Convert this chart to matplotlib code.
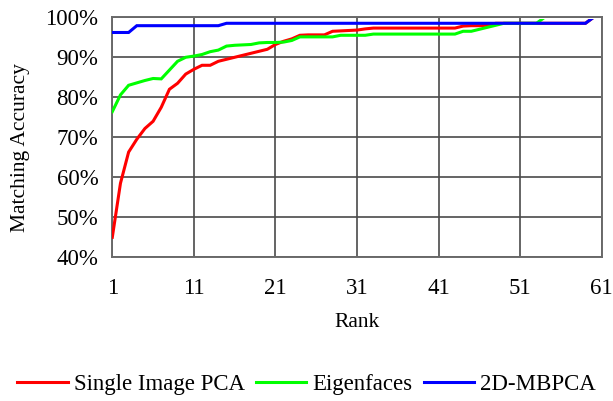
import matplotlib.pyplot as plt
from matplotlib.patches import Rectangle
from matplotlib.ticker import PercentFormatter

ranks = list(range(1, 62))

single_image_pca = [
    45.0, 58.5, 66.3, 69.5, 72.2, 74.0, 77.5, 82.0, 83.5, 85.8,
    87.0, 88.0, 88.0, 89.0, 89.5, 90.0, 90.5, 91.0, 91.5, 92.0,
    93.2, 94.0, 94.6, 95.5, 95.6, 95.6, 95.6, 96.5, 96.6, 96.7,
    96.8, 97.1, 97.3, 97.3, 97.3, 97.3, 97.3, 97.3, 97.3, 97.3,
    97.3, 97.3, 97.3, 97.8, 97.9, 97.9, 98.0, 98.5, 98.5, 98.5,
    98.5, 98.5, 98.5, 98.5, 98.5, 98.5, 98.5, 98.5, 98.5, 100.0,
    100.0,
]
eigenfaces = [
    76.4, 80.6, 83.0, 83.6, 84.2, 84.7, 84.6, 86.8, 89.0, 90.0,
    90.3, 90.7, 91.4, 91.8, 92.8, 93.0, 93.1, 93.2, 93.6, 93.7,
    93.7, 93.8, 94.2, 95.1, 95.1, 95.1, 95.1, 95.1, 95.5, 95.5,
    95.5, 95.5, 95.8, 95.8, 95.8, 95.8, 95.8, 95.8, 95.8, 95.8,
    95.8, 95.8, 95.8, 96.5, 96.5, 97.0, 97.5, 98.0, 98.5, 98.5,
    98.5, 98.5, 98.5, 100.0, 100.0, 100.0, 100.0, 100.0, 100.0, 100.0,
    100.0,
]
mbpca_2d = [96.2] * 3 + [97.9] * 11 + [98.5] * 45 + [100.0] * 2

series = [
    ("Single Image PCA", single_image_pca, "#ff0000"),
    ("Eigenfaces", eigenfaces, "#00ff00"),
    ("2D-MBPCA", mbpca_2d, "#0000ff"),
]

plt.rcParams["font.family"] = ["Liberation Serif", "DejaVu Serif"]

fig = plt.figure(figsize=(6.13, 4.01), dpi=100)
ax = fig.add_axes([0.1832, 0.3584, 0.7985, 0.5985])

# lines sitting on 100% hide under the top border
clip = Rectangle((0, 0), 1, 0.994, transform=ax.transAxes)
for label, values, color in series:
    (line,) = ax.plot(ranks, values, color=color, lw=2.2, label=label,
                      solid_joinstyle="miter", zorder=3)
    line.set_clip_path(clip)

ax.set_xlim(1, 61)
ax.set_ylim(40, 100)
ax.set_xticks(range(1, 62, 10))
ax.set_yticks(range(40, 101, 10))
ax.yaxis.set_major_formatter(PercentFormatter(decimals=0))
ax.grid(True, color="#4a4a4a", lw=1.2)
ax.set_axisbelow(True)
for spine in ax.spines.values():
    spine.set_color("#6a6a6a")
    spine.set_linewidth(1.4)
ax.tick_params(length=0, labelsize=16.5, colors="black")
ax.tick_params(axis="x", pad=15)
ax.tick_params(axis="y", pad=10)

ax.set_xlabel("Rank", fontsize=15.5, labelpad=10)
ax.set_ylabel("Matching Accuracy", fontsize=15.5)
ax.yaxis.set_label_coords(-0.168, 0.458)

fig.legend(loc="center", bbox_to_anchor=(0.5, 0.04), ncol=3, frameon=False,
           fontsize=16.5, handlelength=2.2, handletextpad=0.25,
           columnspacing=0.5)

fig.savefig("out.png", dpi=100)
